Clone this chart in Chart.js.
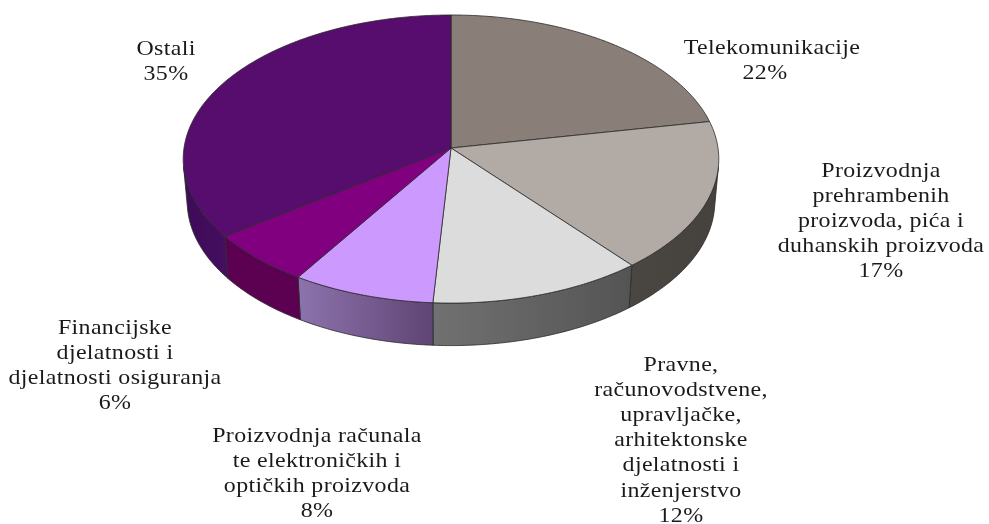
<!DOCTYPE html>
<html>
<head>
<meta charset="utf-8">
<title>Pie</title>
<script src="https://cdn.jsdelivr.net/npm/chart.js@4"></script>
<style>
  body { margin: 0; background: #fff; }
  #wrap { width: 989px; height: 524px; }
</style>
</head>
<body>
<div id="wrap"><canvas id="pie" width="989" height="524"></canvas></div>
<script>
const categories = [
  "Telekomunikacije",
  "Proizvodnja prehrambenih proizvoda, pića i duhanskih proizvoda",
  "Pravne, računovodstvene, upravljačke, arhitektonske djelatnosti i inženjerstvo",
  "Proizvodnja računala te elektroničkih i optičkih proizvoda",
  "Financijske djelatnosti i djelatnosti osiguranja",
  "Ostali",
];
const shares = [22, 17, 12, 8, 6, 35];

const faceColors = ["#897e78", "#b2aaa4", "#dcdcdc", "#cc99ff", "#800080", "#560d6e"];
// wall gradient, left colour and right colour
const wallColors = [
  ["#5e5853", "#5e5853"],
  ["#4a4642", "#45413d"],
  ["#717171", "#545454"],
  ["#8d73ad", "#5f4574"],
  ["#5c0052", "#5c0052"],
  ["#3d0b57", "#450e60"],
];

// wrapped label lines and where each block sits
const labelLines = [
  ["Telekomunikacije"],
  ["Proizvodnja", "prehrambenih", "proizvoda, pića i", "duhanskih proizvoda"],
  ["Pravne,", "računovodstvene,", "upravljačke,", "arhitektonske", "djelatnosti i", "inženjerstvo"],
  ["Proizvodnja računala", "te elektroničkih i", "optičkih proizvoda"],
  ["Financijske", "djelatnosti i", "djelatnosti osiguranja"],
  ["Ostali"],
];
const labelX = [772, 881, 681, 317, 115, 166];
const percentX = [765, 881, 681, 317, 115, 166];
const labelY = [48.5, 171, 365, 436, 328, 49];
const lineGap = 25.2;

// the pie is tilted, so near side looks bigger than far side
const centerX = 451;
const centerY = 148;
const radiusX = 267;
const radiusY = 143.2;
const tilt = 0.0766;
const depth = 42.5;
const shrink = 0.985;
const sideAngle = 0.13;

function project(angle) {
  const w = 1 - tilt * Math.sin(angle);
  return {
    x: centerX + (radiusX * Math.cos(angle)) / w,
    y: centerY + (radiusY * Math.sin(angle)) / w,
  };
}

function rimPoints(start, end) {
  const pts = [];
  const steps = Math.max(2, Math.ceil((end - start) * 80));
  for (let i = 0; i <= steps; i++) {
    pts.push(project(start + ((end - start) * i) / steps));
  }
  return pts;
}

function lower(p) {
  return { x: centerX + (p.x - centerX) * shrink, y: p.y + depth };
}

function tracePath(ctx, pts) {
  ctx.beginPath();
  pts.forEach((p, j) => (j ? ctx.lineTo(p.x, p.y) : ctx.moveTo(p.x, p.y)));
}

const tiltedPie = {
  id: "tiltedPie",
  beforeDatasetDraw(chart) {
    const ctx = chart.ctx;
    const arcs = chart.getDatasetMeta(0).data;

    // only the front part of the wall can be seen
    arcs.forEach((arc, i) => {
      const start = Math.max(arc.startAngle, sideAngle);
      const end = Math.min(arc.endAngle, Math.PI - sideAngle);
      if (end <= start) return;
      const top = rimPoints(start, end);
      const xs = top.map((p) => p.x);
      const grad = ctx.createLinearGradient(Math.min(...xs), 0, Math.max(...xs), 0);
      grad.addColorStop(0, wallColors[i][0]);
      grad.addColorStop(1, wallColors[i][1]);
      tracePath(ctx, top.concat(top.map(lower).reverse()));
      ctx.closePath();
      ctx.fillStyle = grad;
      ctx.fill();
      ctx.strokeStyle = "#2a2a2a";
      ctx.lineWidth = 0.8;
      ctx.stroke();
    });

    arcs.forEach((arc, i) => {
      tracePath(ctx, [{ x: centerX, y: centerY }].concat(rimPoints(arc.startAngle, arc.endAngle)));
      ctx.closePath();
      ctx.fillStyle = faceColors[i];
      ctx.fill();
      ctx.strokeStyle = "#2a2a2a";
      ctx.lineWidth = 0.8;
      ctx.stroke();
    });
    return false;
  },
  afterDraw(chart) {
    const ctx = chart.ctx;
    ctx.font = '21px "Liberation Serif"';
    ctx.letterSpacing = "0.3px";
    ctx.fillStyle = "#1a1a1a";
    ctx.textAlign = "center";
    ctx.textBaseline = "middle";
    const putText = (text, x, y) => {
      ctx.save();
      ctx.translate(x, y);
      ctx.scale(1.14, 1);
      ctx.fillText(text, 0, 0);
      ctx.restore();
    };
    labelLines.forEach((lines, i) => {
      lines.forEach((line, j) => putText(line, labelX[i], labelY[i] + j * lineGap));
      putText(shares[i] + "%", percentX[i], labelY[i] + lines.length * lineGap);
    });
  },
};

new Chart(document.getElementById("pie"), {
  type: "pie",
  data: {
    labels: categories,
    datasets: [{ data: shares, backgroundColor: faceColors, borderWidth: 0 }],
  },
  options: {
    responsive: false,
    animation: false,
    plugins: {
      legend: { display: false },
      tooltip: { enabled: false },
    },
  },
  plugins: [tiltedPie],
});
</script>
</body>
</html>
